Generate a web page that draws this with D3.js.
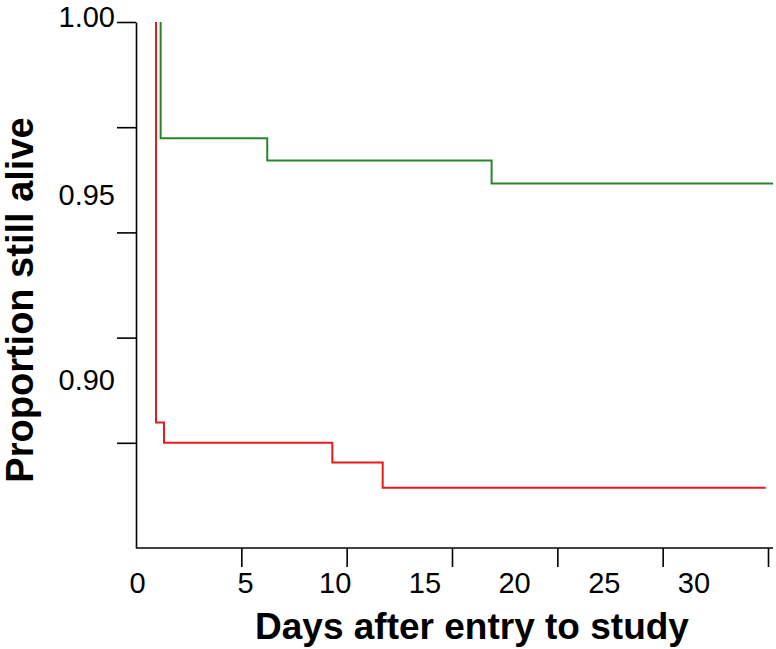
<!DOCTYPE html>
<html>
<head>
<meta charset="utf-8">
<script src="https://cdn.jsdelivr.net/npm/d3@7"></script>
<style>
  body { margin: 0; background: #fff; }
  svg { display: block; font-family: "Liberation Sans", Arial, Helvetica, sans-serif; }
  .domain, .tick line { stroke: #000; stroke-width: 1.6px; }
</style>
</head>
<body>
<script>
// Kaplan-Meier style survival steps (days, proportion alive)
var greenDays = [1.17, 1.17, 6.23, 16.88, 30.24];
var greenSurv = [1.000, 0.9724, 0.9671, 0.9616, 0.9616];
var redDays = [0.95, 0.95, 1.33, 9.32, 11.71, 29.89];
var redSurv = [1.000, 0.9048, 0.9000, 0.8953, 0.8893, 0.8893];

// tick marks and tick labels
var xTickMarks = [5, 10, 15, 20, 25, 30];
var xTickLabels = [0, 5, 10, 15, 20, 25, 30];
var yTickMarks = [1.0, 0.975, 0.95, 0.925, 0.9];
var yTickLabels = [1.00, 0.95, 0.90];

var width = 776, height = 649;

var svg = d3.select("body").append("svg")
    .attr("width", width)
    .attr("height", height);

// data scales
var x = d3.scaleLinear().domain([0, 30]).range([136, 768]);
var y = d3.scaleLinear().domain([0.875, 1]).range([548, 22]);

// the printed labels do not sit on the tick marks in the original figure
var xLab = d3.scaleLinear().domain([0, 5, 30]).range([137.5, 245.5, 694]);
var yLab = d3.scaleLinear().domain([0.9, 0.95, 1]).range([390, 205, 27]);

// x axis (line + tick marks)
var xAxis = d3.axisBottom(x).tickValues(xTickMarks).tickSize(19).tickSizeOuter(0).tickFormat("");
svg.append("g")
    .attr("class", "x axis")
    .attr("transform", "translate(0," + y(0.875) + ")")
    .call(xAxis)
  .select(".domain")
    .attr("d", "M" + x(0) + ",0H" + 773);

// y axis
var yAxis = d3.axisLeft(y).tickValues(yTickMarks).tickSize(19).tickSizeOuter(0).tickFormat("");
svg.append("g")
    .attr("class", "y axis")
    .attr("transform", "translate(" + x(0) + ",0)")
    .call(yAxis);

// tick labels
svg.append("g").selectAll("text")
    .data(xTickLabels)
  .enter().append("text")
    .attr("x", d => xLab(d))
    .attr("y", 593)
    .attr("text-anchor", "middle")
    .attr("font-size", 29)
    .text(d => d);

svg.append("g").selectAll("text")
    .data(yTickLabels)
  .enter().append("text")
    .attr("x", 115)
    .attr("y", d => yLab(d))
    .attr("text-anchor", "end")
    .attr("font-size", 29)
    .text(d => d3.format(".2f")(d));

// survival curves
var line = d3.line()
    .x(d => x(d[0]))
    .y(d => y(d[1]))
    .curve(d3.curveStepAfter);

var greenData = greenDays.map((d, i) => [d, greenSurv[i]]);
var redData = redDays.map((d, i) => [d, redSurv[i]]);

svg.append("path")
    .datum(greenData)
    .attr("fill", "none")
    .attr("stroke", "#2a852a")
    .attr("stroke-width", 2)
    .attr("d", line);

svg.append("path")
    .datum(redData)
    .attr("fill", "none")
    .attr("stroke", "#e8191c")
    .attr("stroke-width", 2)
    .attr("d", line);

// axis titles
svg.append("text")
    .attr("transform", "translate(33,300) rotate(-90)")
    .attr("text-anchor", "middle")
    .attr("font-size", 38)
    .attr("font-weight", "bold")
    .text("Proportion still alive");

svg.append("text")
    .attr("x", 472)
    .attr("y", 639)
    .attr("text-anchor", "middle")
    .attr("font-size", 37)
    .attr("font-weight", "bold")
    .text("Days after entry to study");
</script>
</body>
</html>
